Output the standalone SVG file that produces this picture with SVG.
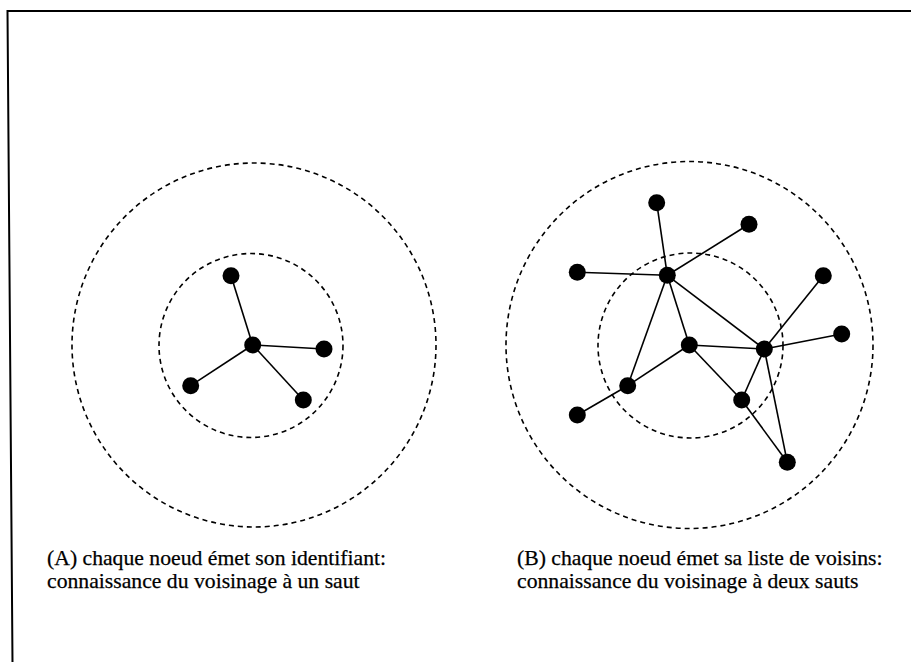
<svg xmlns="http://www.w3.org/2000/svg" width="911" height="662" viewBox="0 0 911 662">
<style>
.frame{fill:none;stroke:#000;stroke-width:2}
.range{fill:none;stroke:#000;stroke-width:1.6;stroke-dasharray:5 4}
.edge{stroke:#000;stroke-width:1.6;fill:none}
.node{fill:#000}
.cap{font-family:"Liberation Serif","Times New Roman",serif;font-size:21.7px;fill:#000;stroke:#000;stroke-width:0.25}
</style>
<rect width="911" height="662" fill="#fff"/>
<path class="frame" d="M911,11 L7.5,11 L12.5,662"/>
<g id="ranges">
<circle class="range" cx="254" cy="345" r="182"/>
<circle class="range" cx="251" cy="345.5" r="92"/>
<circle class="range" cx="689.5" cy="345" r="183.5"/>
<circle class="range" cx="690.5" cy="345.5" r="92.5"/>
</g>
<g id="connectors">
<line class="edge" x1="252.7" y1="345" x2="231" y2="275.7"/>
<line class="edge" x1="252.7" y1="345" x2="324" y2="349"/>
<line class="edge" x1="252.7" y1="345" x2="190.7" y2="385.7"/>
<line class="edge" x1="252.7" y1="345" x2="303.3" y2="400"/>
<line class="edge" x1="667.3" y1="275.3" x2="656.7" y2="202.7"/>
<line class="edge" x1="667.3" y1="275.3" x2="749" y2="224.3"/>
<line class="edge" x1="667.3" y1="275.3" x2="577.3" y2="272.3"/>
<line class="edge" x1="667.3" y1="275.3" x2="689.3" y2="345"/>
<line class="edge" x1="667.3" y1="275.3" x2="764.3" y2="349"/>
<line class="edge" x1="667.3" y1="275.3" x2="627.7" y2="385.7"/>
<line class="edge" x1="689.3" y1="345" x2="627.7" y2="385.7"/>
<line class="edge" x1="689.3" y1="345" x2="764.3" y2="349"/>
<line class="edge" x1="689.3" y1="345" x2="741.7" y2="400"/>
<line class="edge" x1="764.3" y1="349" x2="741.7" y2="400"/>
<line class="edge" x1="764.3" y1="349" x2="823.3" y2="275.7"/>
<line class="edge" x1="764.3" y1="349" x2="841.7" y2="334"/>
<line class="edge" x1="764.3" y1="349" x2="787.3" y2="462.3"/>
<line class="edge" x1="741.7" y1="400" x2="787.3" y2="462.3"/>
<line class="edge" x1="627.7" y1="385.7" x2="577.3" y2="415"/>
</g>
<g id="a-center"><circle class="node" cx="252.7" cy="345" r="8.5"/></g>
<g id="a-n1"><circle class="node" cx="231" cy="275.7" r="8.5"/></g>
<g id="a-n2"><circle class="node" cx="324" cy="349" r="8.5"/></g>
<g id="a-n3"><circle class="node" cx="190.7" cy="385.7" r="8.5"/></g>
<g id="a-n4"><circle class="node" cx="303.3" cy="400" r="8.5"/></g>
<g id="b-top"><circle class="node" cx="656.7" cy="202.7" r="8.5"/></g>
<g id="b-topright"><circle class="node" cx="749" cy="224.3" r="8.5"/></g>
<g id="b-left"><circle class="node" cx="577.3" cy="272.3" r="8.5"/></g>
<g id="b-hub"><circle class="node" cx="667.3" cy="275.3" r="8.5"/></g>
<g id="b-right1"><circle class="node" cx="823.3" cy="275.7" r="8.5"/></g>
<g id="b-right2"><circle class="node" cx="841.7" cy="334" r="8.5"/></g>
<g id="b-center"><circle class="node" cx="689.3" cy="345" r="8.5"/></g>
<g id="b-east"><circle class="node" cx="764.3" cy="349" r="8.5"/></g>
<g id="b-west"><circle class="node" cx="627.7" cy="385.7" r="8.5"/></g>
<g id="b-bottomleft"><circle class="node" cx="577.3" cy="415" r="8.5"/></g>
<g id="b-south"><circle class="node" cx="741.7" cy="400" r="8.5"/></g>
<g id="b-bottom"><circle class="node" cx="787.3" cy="462.3" r="8.5"/></g>
<g id="caption-a">
<text class="cap" x="47" y="565">(A) chaque noeud émet son identifiant:</text>
<text class="cap" x="47" y="588">connaissance du voisinage à un saut</text>
</g>
<g id="caption-b">
<text class="cap" x="517" y="565">(B) chaque noeud émet sa liste de voisins:</text>
<text class="cap" x="517" y="588">connaissance du voisinage à deux sauts</text>
</g>
</svg>
